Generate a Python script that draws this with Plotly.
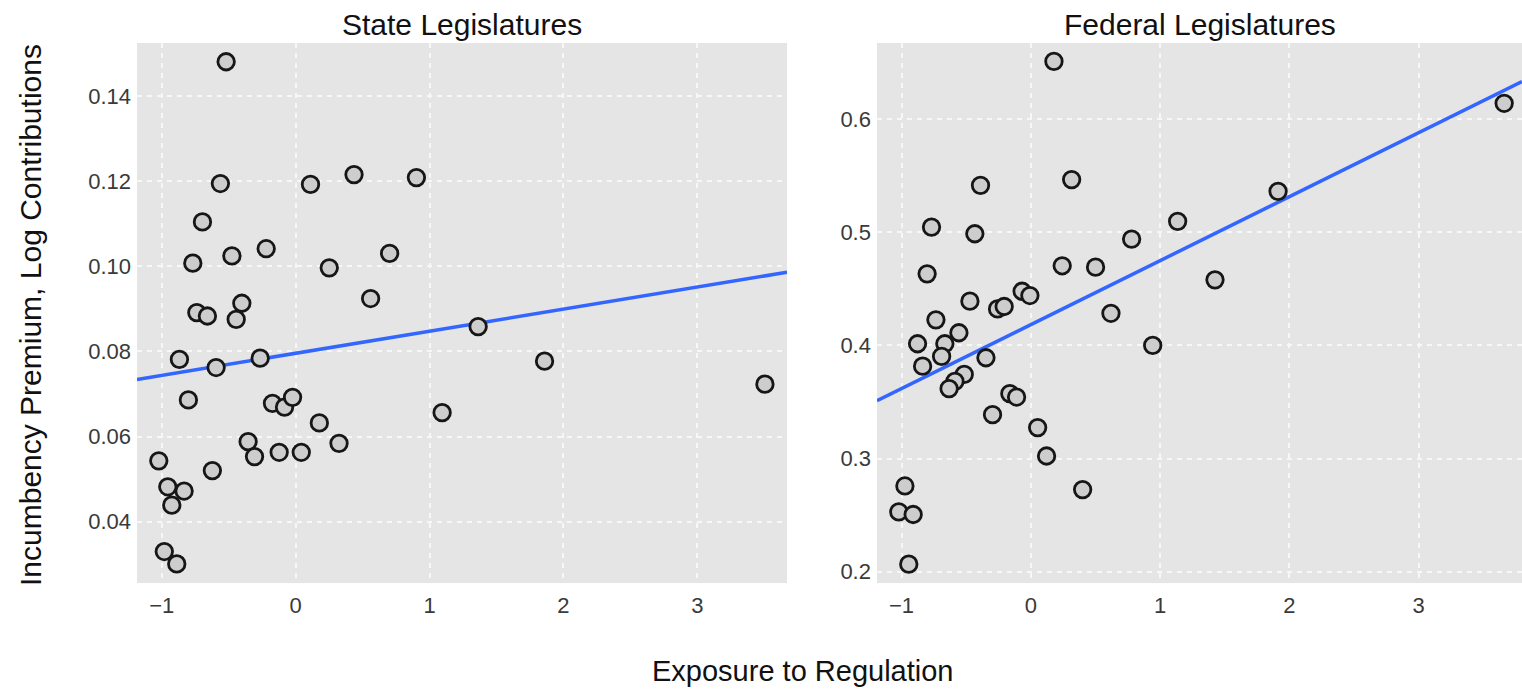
import numpy as np
import plotly.graph_objects as go

# State legislatures: exposure to regulation vs. incumbency premium
state_x = [-0.519, -0.562, 0.111, 0.436, 0.902, -0.696, -0.768, -0.476, -0.220, 0.251,
           0.702, 0.560, -0.402, -0.738, -0.659, -0.444, 1.363, -0.868, -0.594, -0.265,
           -0.801, -0.173, -0.083, -0.023, 0.177, 1.094, 0.324, -0.355, -0.307, -0.123,
           0.042, -1.022, -0.622, -0.955, -0.833, -0.925, -0.981, -0.888, 1.859, 3.505]
state_y = [0.1480, 0.1194, 0.1192, 0.1215, 0.1208, 0.1104, 0.1007, 0.1024, 0.1041, 0.0996,
           0.1030, 0.0924, 0.0913, 0.0891, 0.0883, 0.0875, 0.0858, 0.0781, 0.0762, 0.0784,
           0.0686, 0.0678, 0.0669, 0.0692, 0.0632, 0.0656, 0.0584, 0.0588, 0.0553, 0.0563,
           0.0563, 0.0543, 0.0520, 0.0482, 0.0472, 0.0439, 0.0330, 0.0301, 0.0777, 0.0723]

# Federal legislatures
fed_x = [0.179, 0.316, -0.389, -0.768, -0.433, 1.136, 0.780, -0.802, 0.243, 0.501,
         1.425, -0.471, -0.257, -0.206, -0.067, -0.007, 0.620, -0.734, -0.556, -0.876,
         -0.665, 0.943, -0.690, -0.347, -0.837, -0.515, -0.587, -0.632, -0.162, -0.110,
         -0.296, 0.053, 0.122, 0.401, -0.974, -1.021, -0.910, -0.944, 1.913, 3.662]
fed_y = [0.651, 0.5466, 0.5415, 0.5046, 0.4987, 0.5097, 0.494, 0.4633, 0.4704, 0.4692,
         0.458, 0.4391, 0.4323, 0.4344, 0.4479, 0.4441, 0.4284, 0.4226, 0.4112, 0.4015,
         0.4015, 0.400, 0.3903, 0.3891, 0.3817, 0.3744, 0.3682, 0.3618, 0.3574, 0.3544,
         0.3388, 0.3274, 0.3023, 0.2726, 0.2758, 0.2529, 0.2506, 0.2067, 0.5362, 0.614]

state_xrange = [-1.185, 3.67]
state_yrange = [0.0256, 0.1524]
fed_xrange = [-1.19, 3.80]
fed_yrange = [0.190, 0.6673]

state_yticks = [0.04, 0.06, 0.08, 0.10, 0.12, 0.14]
state_yticklabels = ["0.04", "0.06", "0.08", "0.10", "0.12", "0.14"]
fed_yticks = [0.2, 0.3, 0.4, 0.5, 0.6]
fed_yticklabels = ["0.2", "0.3", "0.4", "0.5", "0.6"]
xticks = [-1, 0, 1, 2, 3]
xticklabels = ["\u22121", "0", "1", "2", "3"]

FONT = "Liberation Sans, Arial, sans-serif"
PANEL_BG = "#E5E5E5"
LINE_BLUE = "#3366FF"

fig = go.Figure()


def add_panel(xs, ys, xrange, xa, ya):
    # linear fit drawn across the whole panel width
    slope, intercept = np.polyfit(xs, ys, 1)
    fx = np.array(xrange)
    fig.add_trace(go.Scatter(
        x=fx, y=slope * fx + intercept, mode="lines",
        line=dict(color=LINE_BLUE, width=3.5),
        xaxis=xa, yaxis=ya, hoverinfo="skip", showlegend=False))
    fig.add_trace(go.Scatter(
        x=xs, y=ys, mode="markers",
        marker=dict(size=16.5, color="#CDCDCD", line=dict(color="#161616", width=2.8)),
        xaxis=xa, yaxis=ya, showlegend=False))


add_panel(state_x, state_y, state_xrange, "x", "y")
add_panel(fed_x, fed_y, fed_xrange, "x2", "y2")

grid = dict(showgrid=True, gridcolor="#F7F7F7", gridwidth=1.6, griddash="5px,5px",
            zeroline=False, showline=False, ticks="",
            tickfont=dict(family=FONT, size=22, color="#3A3A3A"))

fig.update_layout(
    width=1522, height=690,
    margin=dict(l=0, r=0, t=0, b=0),
    paper_bgcolor="white",
    plot_bgcolor=PANEL_BG,
    xaxis=dict(domain=[0.0900, 0.5171], range=state_xrange, tickvals=xticks,
               ticktext=xticklabels, anchor="y", ticklabelstandoff=7, **grid),
    yaxis=dict(domain=[0.155, 0.9377], range=state_yrange, tickvals=state_yticks,
               ticktext=state_yticklabels, anchor="x", ticklabelstandoff=5, **grid),
    xaxis2=dict(domain=[0.5762, 1.0], range=fed_xrange, tickvals=xticks,
                ticktext=xticklabels, anchor="y2", ticklabelstandoff=7, **grid),
    yaxis2=dict(domain=[0.155, 0.9377], range=fed_yrange, tickvals=fed_yticks,
                ticktext=fed_yticklabels, anchor="x2", ticklabelstandoff=5, **grid),
)

# panel titles and shared axis titles placed in paper coordinates
titles = [
    ("State Legislatures", (137 + 787) / 2 / 1522, 1 - 24 / 690, 0, 30),
    ("Federal Legislatures", (877 + 1522) / 2 / 1522, 1 - 24 / 690, 0, 30),
    ("Exposure to Regulation", 802 / 1522, 1 - 671 / 690, 0, 29),
    ("Incumbency Premium, Log Contributions", 30 / 1522, 1 - 315 / 690, -90, 30),
]
for text, xp, yp, ang, size in titles:
    fig.add_annotation(text=text, x=xp, y=yp, xref="paper", yref="paper",
                       xanchor="center", yanchor="middle", showarrow=False,
                       textangle=ang,
                       font=dict(family=FONT, size=size, color="#111111"))

fig.write_html("out.html")
